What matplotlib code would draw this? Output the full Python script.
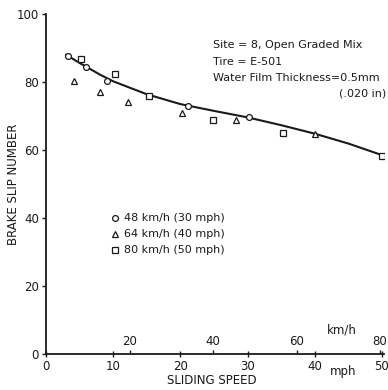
import numpy as np
import matplotlib.pyplot as plt

# ---------------------------
# данные (mph, brake slip number)
# ---------------------------
speed_48 = [3.2, 5.9, 9.1, 21.2, 30.2]
bsn_48 = [87.6, 84.3, 80.4, 72.9, 69.8]

speed_64 = [4.1, 8.0, 12.2, 20.2, 28.3, 40.0]
bsn_64 = [80.4, 77.1, 74.2, 71.0, 68.8, 64.7]

speed_80 = [5.2, 10.3, 15.3, 24.9, 35.3, 50.0]
bsn_80 = [86.7, 82.4, 76.0, 68.8, 64.9, 58.2]

# сглаженная кривая
curve_speed = [3.0, 5.0, 8.0, 10.0, 15.0, 20.0, 25.0, 30.0, 35.0, 40.0, 45.0, 50.0]
curve_bsn = [88.0, 85.6, 82.2, 80.2, 76.4, 73.5, 71.5, 69.6, 67.3, 64.8, 61.9, 58.5]

mph_ticks = [0, 10, 20, 30, 40, 50]
kmh_ticks = [20, 40, 60, 80]
y_ticks = [0, 20, 40, 60, 80, 100]

INK = "#1a1a1a"
KMH_PER_MPH = 1.609

plt.rcParams['font.family'] = 'DejaVu Sans'

fig = plt.figure(figsize=(3.88, 3.90), dpi=100)
ax = fig.add_axes([0.1186, 0.0923, 0.871, 0.8718])

ax.plot(curve_speed, curve_bsn, '-', color=INK, lw=1.5, zorder=2)

mk = dict(ls='none', mfc='white', mec=INK, mew=0.9, ms=4.2, zorder=3)
ax.plot(speed_48, bsn_48, marker='o', **mk)
ax.plot(speed_64, bsn_64, marker='^', **mk)
ax.plot(speed_80, bsn_80, marker='s', **mk)

ax.set_xlim(0, 50.3)
ax.set_ylim(0, 100)
ax.set_xticks(mph_ticks)
ax.set_yticks(y_ticks)
ax.tick_params(axis='both', colors=INK, labelsize=8.5, length=3, width=1)
ax.tick_params(axis='x', direction='inout', length=5, pad=2)
ax.tick_params(axis='y', pad=2)

for s in ['top', 'right']:
    ax.spines[s].set_visible(False)
for s in ['left', 'bottom']:
    ax.spines[s].set_color(INK)
    ax.spines[s].set_linewidth(1.3)

# km/h шкала над осью
sec = ax.secondary_xaxis(0.0, functions=(lambda v: v * KMH_PER_MPH,
                                         lambda v: v / KMH_PER_MPH))
sec.xaxis.set_ticks_position('top')
sec.set_xticks(kmh_ticks)
sec.tick_params(axis='x', direction='out', length=3, width=1,
                labelsize=8.5, colors=INK, pad=1)
sec.spines['top'].set_visible(False)
sec.spines['bottom'].set_visible(False)

ax.text(0.876, 0.07, "km/h", transform=ax.transAxes, fontsize=8.5,
        color=INK, ha='center', va='center')
ax.text(0.879, -0.05, "mph", transform=ax.transAxes, fontsize=8.5,
        color=INK, ha='center', va='center')

ax.set_ylabel("BRAKE SLIP NUMBER", fontsize=8.5, color=INK)
ax.yaxis.set_label_coords(-0.077, 0.5)
ax.set_xlabel("SLIDING SPEED", fontsize=8.5, color=INK)
ax.xaxis.set_label_coords(0.49, -0.058)

# подписи
txt = dict(fontsize=8, color=INK, transform=fig.transFigure)
fig.text(213 / 388, 1 - 48 / 390, "Site = 8, Open Graded Mix", **txt)
fig.text(213 / 388, 1 - 65 / 390, "Tire = E-501", **txt)
fig.text(213 / 388, 1 - 81 / 390, "Water Film Thickness=0.5mm", **txt)
fig.text(386 / 388, 1 - 97 / 390, "(.020 in)", ha='right', **txt)

# легенда
legend_labels = ["48 km/h (30 mph)", "64 km/h (40 mph)", "80 km/h (50 mph)"]
legend_markers = ['o', '^', 's']
for i, (lab, m) in enumerate(zip(legend_labels, legend_markers)):
    yy = 1 - (218 + i * 16) / 390
    ax.plot([115 / 388], [yy], marker=m, transform=fig.transFigure,
            clip_on=False, **mk)
    fig.text(124 / 388, yy, lab, va='center', **txt)

plt.savefig("out.png", dpi=100)
